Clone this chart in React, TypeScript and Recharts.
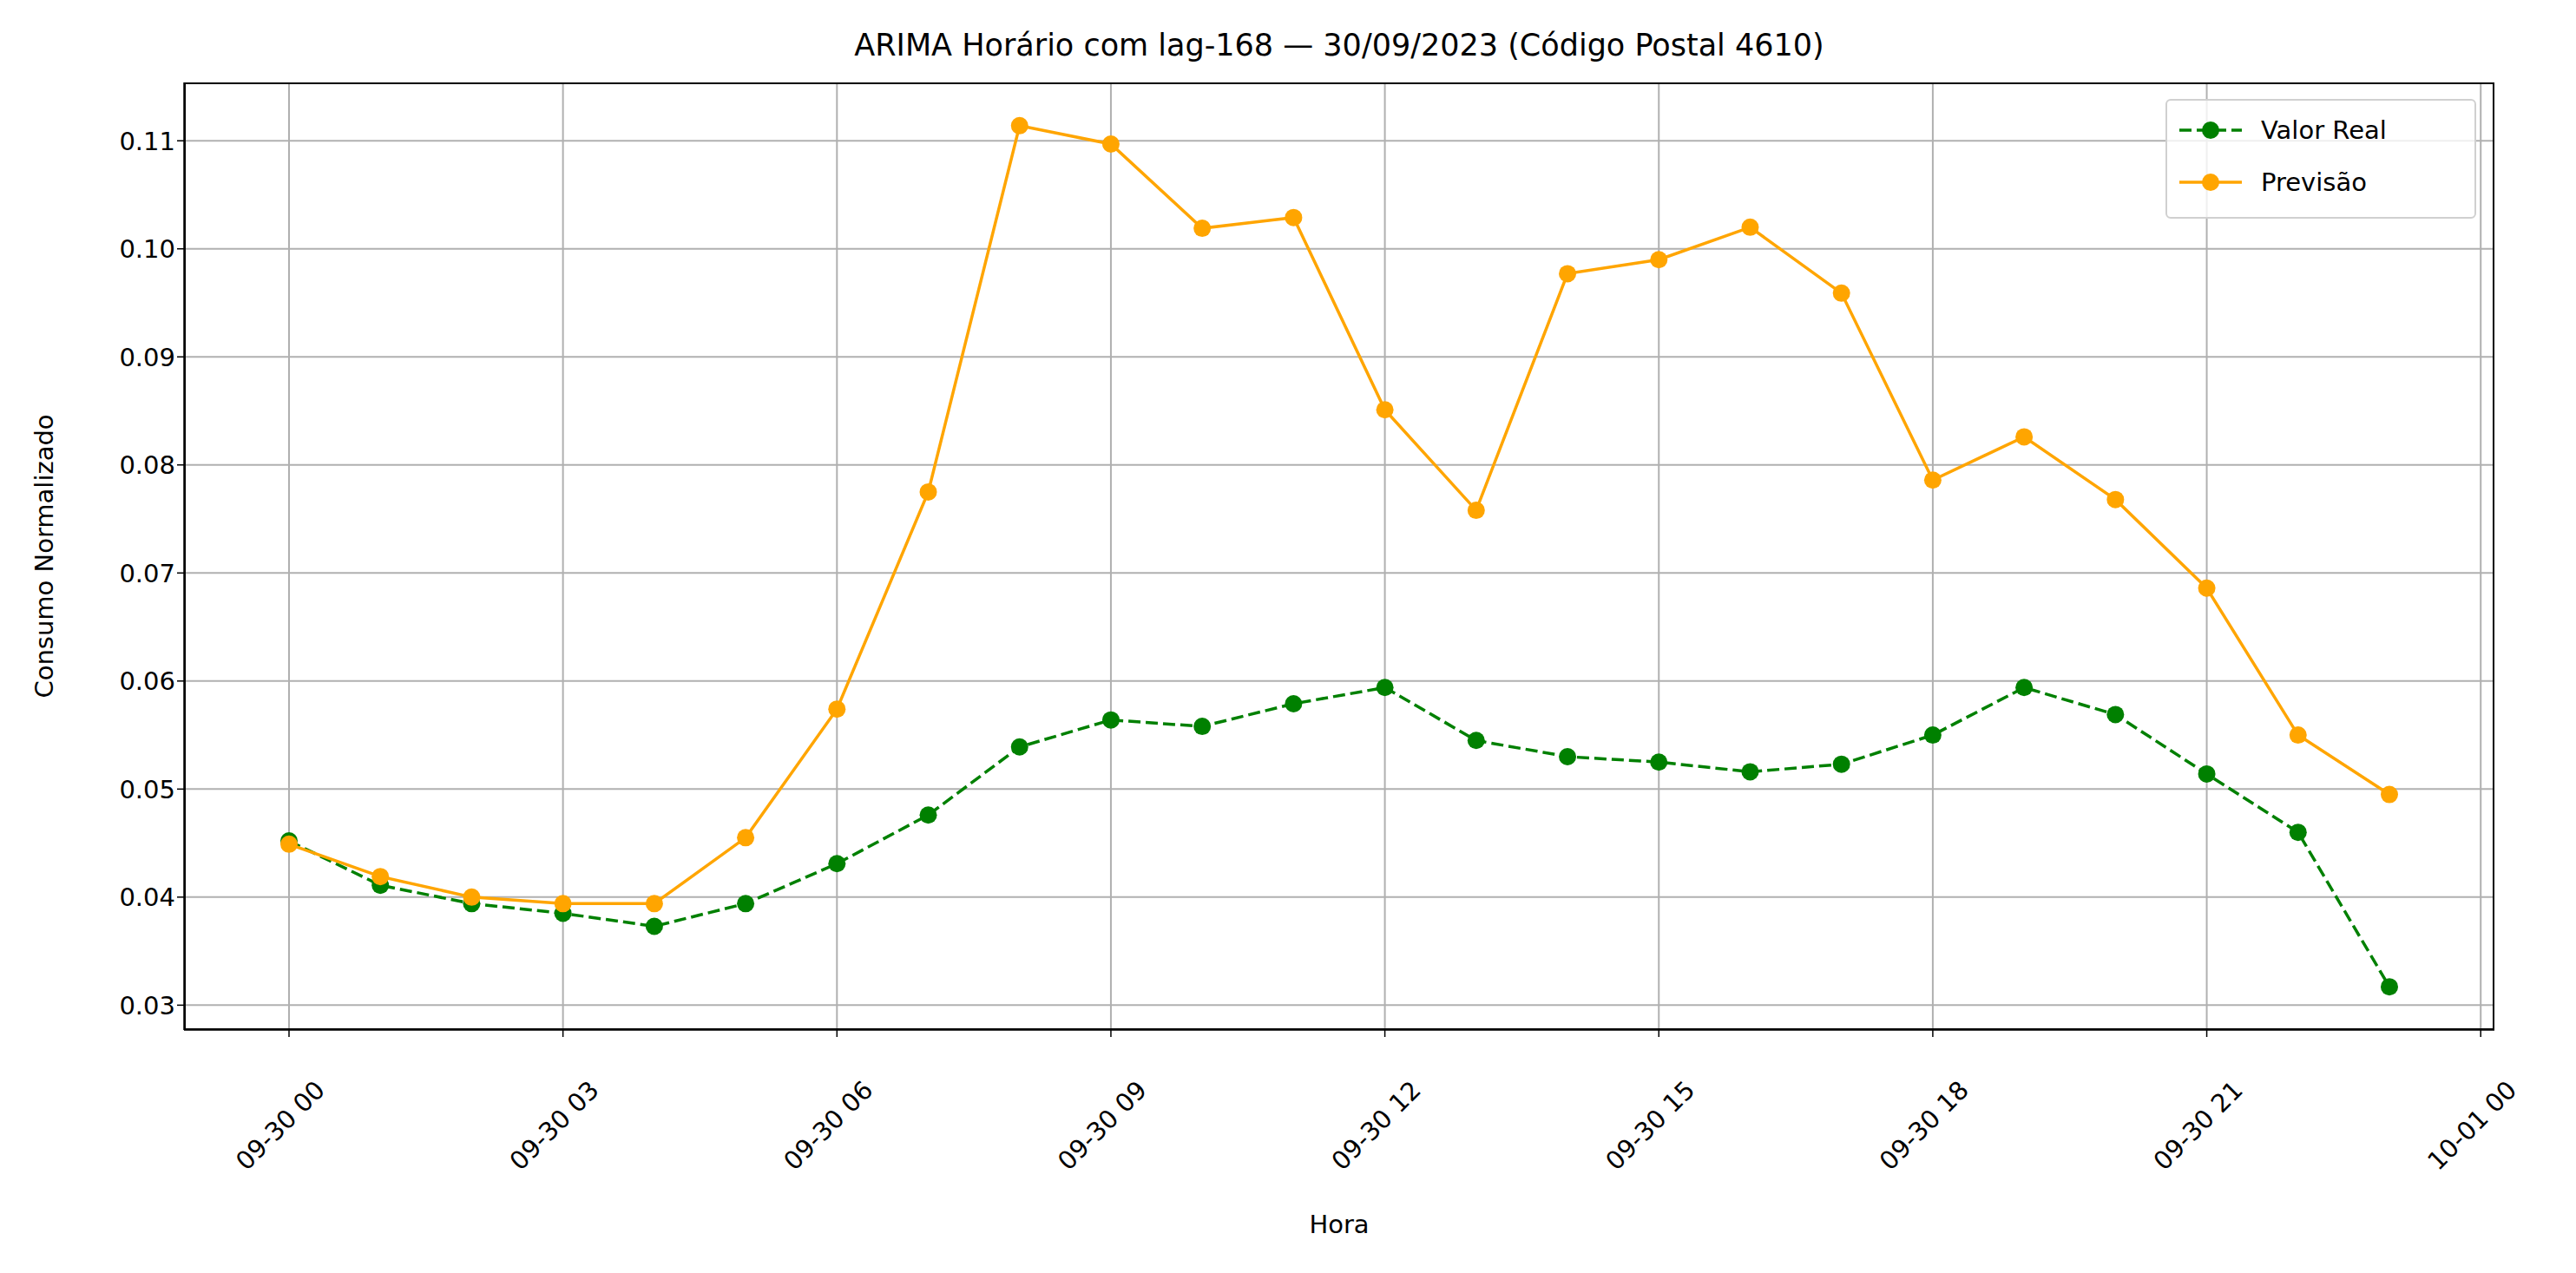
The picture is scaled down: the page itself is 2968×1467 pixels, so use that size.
import React from "react";
import { LineChart, Line, XAxis, YAxis, CartesianGrid } from "recharts";

const hours = [0, 1, 2, 3, 4, 5, 6, 7, 8, 9, 10, 11, 12, 13, 14, 15, 16, 17, 18, 19, 20, 21, 22, 23];
const valorReal = [0.0452, 0.0411, 0.0394, 0.0385, 0.0373, 0.0394, 0.0431, 0.0476, 0.0539, 0.0564, 0.0558, 0.0579, 0.0594, 0.0545, 0.053, 0.0525, 0.0516, 0.0523, 0.055, 0.0594, 0.0569, 0.0514, 0.046, 0.0317];
const previsao = [0.0449, 0.0419, 0.04, 0.0394, 0.0394, 0.0455, 0.0574, 0.0775, 0.1114, 0.1097, 0.1019, 0.1029, 0.0851, 0.0758, 0.0977, 0.099, 0.102, 0.0959, 0.0786, 0.0826, 0.0768, 0.0686, 0.055, 0.0495];
const xTicks = [0, 3, 6, 9, 12, 15, 18, 21, 24];
const yTicks = [0.03, 0.04, 0.05, 0.06, 0.07, 0.08, 0.09, 0.1, 0.11];

const data = hours.map((h, i) => ({ h, real: valorReal[i], prev: previsao[i] }));

const FONT = "DejaVu Sans, sans-serif";
const PL = 212, PR = 2874, PT = 95, PB = 1187;
const FS = 29;

const XTick = (props: any) => {
  const { x, y, payload } = props;
  const v = payload.value;
  const label = v >= 24 ? "10-01 00" : `09-30 ${String(v).padStart(2, "0")}`;
  const cx = x - 10, cy = y + 100;
  return (
    <text x={cx} y={cy} textAnchor="middle" dominantBaseline="central" fontSize={FS} fontFamily={FONT} fill="#000" transform={`rotate(-45 ${cx} ${cy})`}>
      {label}
    </text>
  );
};

export default function App() {
  return (
    <div style={{ position: "absolute", left: 0, top: 0, width: 2968, height: 1467, background: "#fff", fontFamily: FONT }}>
      <LineChart width={2968} height={1467} data={data} margin={{ top: PT, right: 2968 - PR, left: PL - 110, bottom: 1467 - PB - 150 }}>
        <CartesianGrid stroke="#b0b0b0" strokeWidth={2} horizontalValues={yTicks} verticalValues={xTicks} />
        <XAxis dataKey="h" type="number" domain={[-1.15, 24.15]} ticks={xTicks} height={150} tick={<XTick />} tickSize={8} stroke="#000" strokeWidth={1.5} interval={0} />
        <YAxis type="number" domain={[0.0277, 0.1154]} ticks={yTicks} width={110} tickSize={8} stroke="#000" strokeWidth={1.5} tickFormatter={(v: number) => v.toFixed(2)} tick={{ fontSize: FS, fontFamily: FONT, fill: "#000" }} interval={0} />
        <Line dataKey="real" stroke="#008000" strokeWidth={3.5} strokeDasharray="14 6" dot={{ r: 10, fill: "#008000", stroke: "#008000", strokeWidth: 0 }} isAnimationActive={false} />
        <Line dataKey="prev" stroke="#ffa500" strokeWidth={3.5} dot={{ r: 10, fill: "#ffa500", stroke: "#ffa500", strokeWidth: 0 }} isAnimationActive={false} />
      </LineChart>
      <div style={{ position: "absolute", left: PL, top: PT, width: PR - PL, height: PB - PT, border: "2px solid #000", boxSizing: "border-box", pointerEvents: "none" }} />
      <div style={{ position: "absolute", left: PL, width: PR - PL, top: 32, textAlign: "center", fontSize: 35 }}>
        ARIMA Horário com lag-168 — 30/09/2023 (Código Postal 4610)
      </div>
      <div style={{ position: "absolute", left: 51, top: (PT + PB) / 2, transform: "translate(-50%, -50%) rotate(-90deg)", fontSize: FS, whiteSpace: "nowrap" }}>
        Consumo Normalizado
      </div>
      <div style={{ position: "absolute", left: PL, width: PR - PL, top: 1394, textAlign: "center", fontSize: FS }}>Hora</div>
      <div style={{ position: "absolute", left: 2495, top: 114, width: 358, height: 138, border: "2px solid #d0d0d0", borderRadius: 6, boxSizing: "border-box", background: "rgba(255,255,255,0.8)", fontSize: FS }}>
        {[{ c: "#008000", t: "Valor Real", d: "14 6" }, { c: "#ffa500", t: "Previsão", d: undefined }].map((e, i) => (
          <div key={i} style={{ position: "absolute", left: 12, top: 14 + i * 60, display: "flex", alignItems: "center" }}>
            <svg width={76} height={40}>
              <line x1={2} y1={20} x2={74} y2={20} stroke={e.c} strokeWidth={3.5} strokeDasharray={e.d} />
              <circle cx={38} cy={20} r={10} fill={e.c} />
            </svg>
            <span style={{ marginLeft: 20 }}>{e.t}</span>
          </div>
        ))}
      </div>
    </div>
  );
}
